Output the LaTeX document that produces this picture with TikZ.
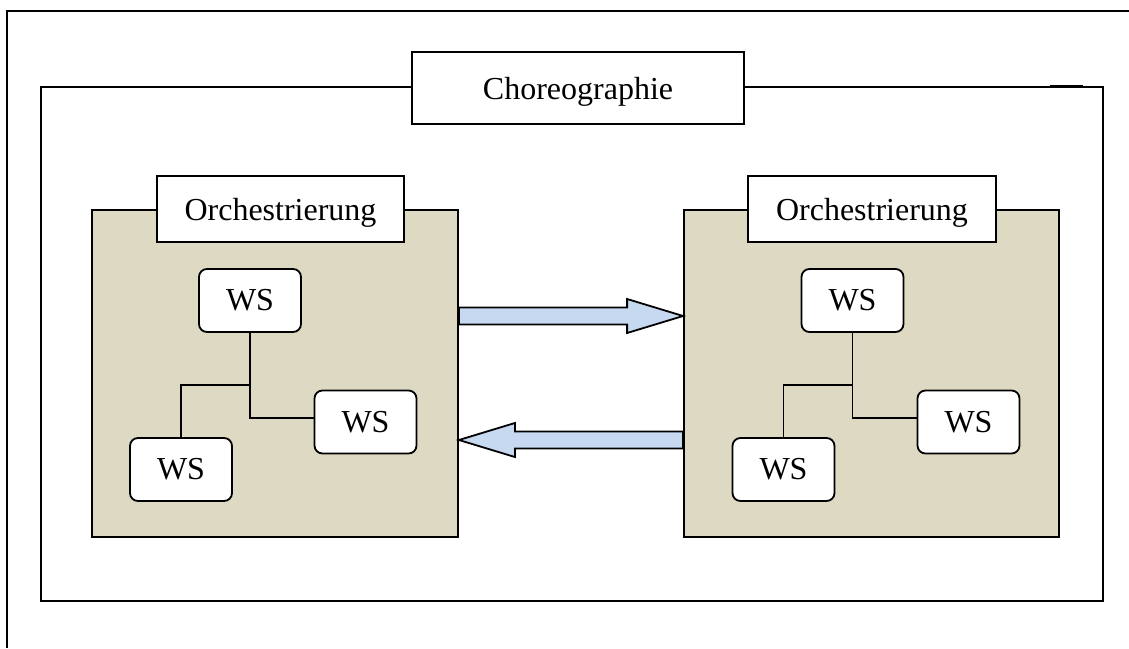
\documentclass[tikz,border=0pt]{standalone}
\usepackage{fontspec}
\setmainfont{Liberation Serif}
\usetikzlibrary{calc}
\definecolor{orchfill}{HTML}{DDD9C3}
\definecolor{msgfill}{HTML}{C6D9F1}
\begin{document}
\begin{tikzpicture}[x=0.5pt,y=-0.5pt,line width=0.9pt,
  font=\fontsize{16}{19}\selectfont,
  plainbox/.style={draw,rectangle,inner sep=0pt},
  orch/.style={plainbox,fill=orchfill,minimum height=163.5pt},
  tagbox/.style={plainbox,fill=white,minimum height=33pt,text depth=0pt},
  ws/.style={plainbox,fill=white,rounded corners=4pt,minimum width=51pt,minimum height=31.5pt},
  msg/.style={draw,fill=msgfill,line join=miter}]
\useasboundingbox (0,0) rectangle (1129,648);

% page frame
\draw (1129,11) -- (7,11) -- (7,648);

% choreography frame
\node[plainbox,minimum width=531pt,minimum height=257pt] (chor) at (572,344) {};
\draw[line width=1.6pt] ([xshift=-27pt]chor.north east) -- ([xshift=-10.5pt]chor.north east);
\node[tagbox,minimum width=166pt,minimum height=36pt] (chortag) at (578,88) {Choreographie};

% orchestration blocks
\node[orch,minimum width=183pt] (orchL) at (275,373.5) {};
\node[orch,minimum width=187.5pt] (orchR) at (871.5,373.5) {};
\node[tagbox,minimum width=123.5pt] (tagL) at (280.5,209) {Orchestrierung};
\node[tagbox,minimum width=124pt] (tagR) at (872,209) {Orchestrierung};

% web services, left
\node[ws] (L1) at (250,300.5) {WS};
\node[ws] (L2) at (365.5,422) {WS};
\node[ws] (L3) at (181,469.5) {WS};
\coordinate (jL) at (247,385);
\draw (L1.south) |- ([yshift=2pt]L2.west);
\draw (L1.south |- jL) -| (L3.north);

% web services, right
\node[ws] (R1) at (852.5,300.5) {WS};
\node[ws] (R2) at (968.5,422) {WS};
\node[ws] (R3) at (783.5,469.5) {WS};
\coordinate (jR) at (850,385);
\draw (R1.south) |- ([yshift=2pt]R2.west);
\draw (R1.south |- jR) -| (R3.north);

% messages between the orchestrations
\coordinate (a1) at (0,316);
\coordinate (a2) at (0,440);
\draw[msg] ($(orchL.east |- a1)+(0,-8.5)$) -- ($(orchR.west |- a1)+(-56,-8.5)$)
  -- ($(orchR.west |- a1)+(-56,-17)$) -- (orchR.west |- a1)
  -- ($(orchR.west |- a1)+(-56,17)$) -- ($(orchR.west |- a1)+(-56,8.5)$)
  -- ($(orchL.east |- a1)+(0,8.5)$) -- cycle;
\draw[msg] ($(orchR.west |- a2)+(0,-8.5)$) -- ($(orchL.east |- a2)+(56,-8.5)$)
  -- ($(orchL.east |- a2)+(56,-17)$) -- (orchL.east |- a2)
  -- ($(orchL.east |- a2)+(56,17)$) -- ($(orchL.east |- a2)+(56,8.5)$)
  -- ($(orchR.west |- a2)+(0,8.5)$) -- cycle;
\end{tikzpicture}
\end{document}
